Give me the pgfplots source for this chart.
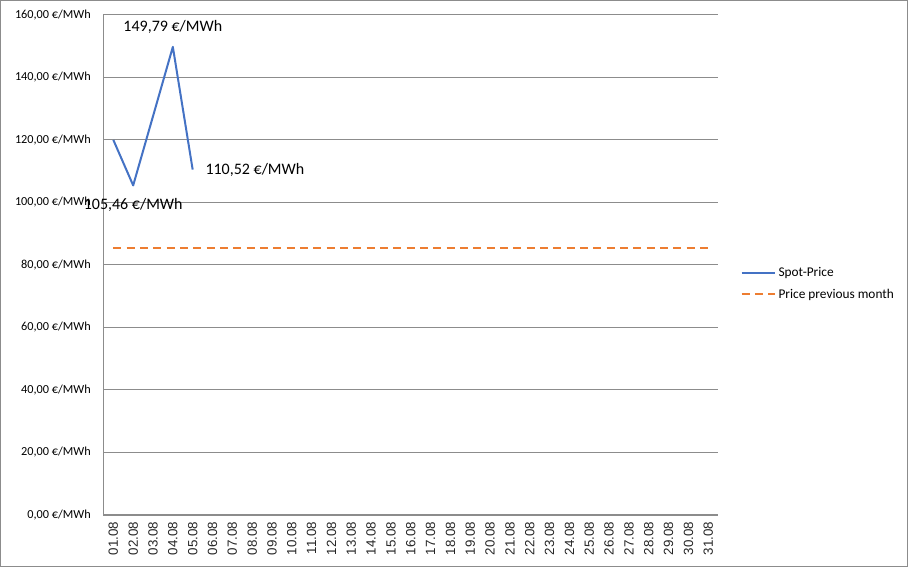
\documentclass[border=0pt]{standalone}
\usepackage{pgfplots}
\pgfplotsset{compat=1.18}
\usepackage{fontspec}
\setmainfont{Carlito}
\newfontfamily\xlabfont{Liberation Sans}
\definecolor{spotblue}{HTML}{4472C4}
\definecolor{prevorange}{HTML}{ED7D31}
\definecolor{gridgray}{HTML}{8C8C8C}
\begin{document}
\begin{tikzpicture}[x=1pt,y=1pt]
\draw[gridgray, line width=0.75pt] (0.4,0.4) rectangle (680.6,424.85);
\begin{axis}[
  at={(77.6pt,39pt)}, anchor=south west,
  scale only axis, width=461pt, height=375pt,
  xmin=0.5, xmax=31.5, ymin=0, ymax=160,
  xtick={1,...,31},
  xticklabels={01.08,02.08,03.08,04.08,05.08,06.08,07.08,08.08,09.08,10.08,11.08,12.08,13.08,14.08,15.08,16.08,17.08,18.08,19.08,20.08,21.08,22.08,23.08,24.08,25.08,26.08,27.08,28.08,29.08,30.08,31.08},
  xticklabel style={yshift=-4pt, rotate=90, anchor=east, font=\xlabfont\fontsize{10}{10}\selectfont, inner sep=1pt, text=black!85},
  ytick={0,20,...,160},
  yticklabels={{0,00 €/MWh},{20,00 €/MWh},{40,00 €/MWh},{60,00 €/MWh},{80,00 €/MWh},{100,00 €/MWh},{120,00 €/MWh},{140,00 €/MWh},{160,00 €/MWh}},
  yticklabel style={font=\fontsize{9.2}{10}\selectfont, xshift=-6pt},
  major tick length=0pt,
  ymajorgrids, grid style={gridgray, line width=0.75pt},
  axis x line*=bottom, axis y line*=left,
  axis line style={gridgray, line width=0.75pt, -},
  x axis line style={-}, y axis line style={-},
  legend style={at={(1.036,0.463)}, anchor=west, draw=none, fill=none,
    font=\fontsize{10}{11}\selectfont, row sep=4pt, inner sep=0pt},
  legend cell align=left,
  legend image code/.code={\draw[#1] (0pt,0pt) -- (25pt,0pt);},
  clip=false,
]
\addplot[spotblue, line width=1.5pt, line join=round] coordinates {
  (1,120.0) (2,105.46) (3,127.6) (4,149.79) (5,110.52)
};
\addlegendentry{Spot-Price}
\addplot[prevorange, line width=1.5pt, dash pattern=on 6pt off 4pt] coordinates {
  (1,85.4) (2,85.4) (3,85.4) (4,85.4) (5,85.4) (6,85.4) (7,85.4) (8,85.4) (9,85.4) (10,85.4)
  (11,85.4) (12,85.4) (13,85.4) (14,85.4) (15,85.4) (16,85.4) (17,85.4) (18,85.4) (19,85.4) (20,85.4)
  (21,85.4) (22,85.4) (23,85.4) (24,85.4) (25,85.4) (26,85.4) (27,85.4) (28,85.4) (29,85.4) (30,85.4) (31,85.4)
};
\addlegendentry{Price previous month}
\node[anchor=south, font=\fontsize{12}{13}\selectfont, inner sep=2pt] at (axis cs:4,153.0) {149,79 €/MWh};
\node[anchor=north, font=\fontsize{12}{13}\selectfont, inner sep=2pt] at (axis cs:2,102.3) {105,46 €/MWh};
\node[anchor=west, font=\fontsize{12}{13}\selectfont, inner sep=2pt] at (axis cs:5.5,110.52) {110,52 €/MWh};
\end{axis}
\end{tikzpicture}
\end{document}
